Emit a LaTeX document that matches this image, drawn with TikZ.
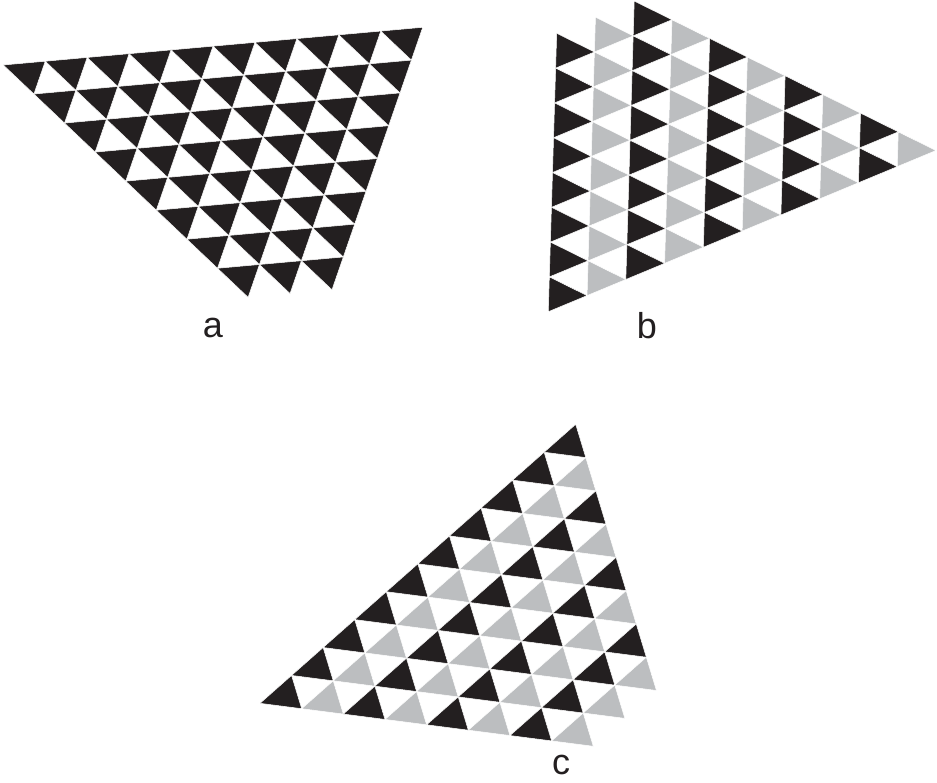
\documentclass[tikz,border=0pt]{standalone}
\usepackage{fontspec}
\setmainfont{Liberation Sans}
\definecolor{trblack}{HTML}{231F20}
\definecolor{trgrey}{HTML}{BCBEC0}
\tikzset{
  tri/.style={draw=white, line width=0.5pt, line join=miter},
  lbl/.style={font=\fontsize{36}{40}\selectfont, text=trblack, inner sep=0pt}
}
\begin{document}
\begin{tikzpicture}[x=1pt,y=-1pt]
\useasboundingbox (0,0) rectangle (937,782);
% ---------- panel a ----------
\begin{scope}[shift={(3.3pt,-65pt)}, x={(41.94pt,3.77pt)}, y={(30.6pt,-29.04pt)}]
\foreach \j in {0,...,7}{
  \pgfmathtruncatemacro\imax{9-\j}
  \foreach \i in {0,...,\imax}{
    \filldraw[tri, fill=trblack] (\i,\j) -- (\i+1,\j) -- (\i,\j+1) -- cycle;
  }
}
\end{scope}
% ---------- panel b ----------
\begin{scope}[shift={(548.3pt,-311.7pt)}, x={(1.05pt,34.8pt)}, y={(38.77pt,16.12pt)}]
\foreach \j in {0,...,9}{
  \pgfmathtruncatemacro\imax{min(7,9-\j)}
  \foreach \i in {0,...,\imax}{
    \ifodd\j\relax
      \filldraw[tri, fill=trgrey] (\i,\j) -- (\i+1,\j) -- (\i,\j+1) -- cycle;
    \else
      \filldraw[tri, fill=trblack] (\i,\j) -- (\i+1,\j) -- (\i,\j+1) -- cycle;
    \fi
  }
}
\end{scope}
% ---------- panel c ----------
\begin{scope}[shift={(260pt,-703.3pt)}, x={(41.66pt,-5.37pt)}, y={(31.57pt,27.9pt)}]
\foreach \i in {0,...,7}{
  \pgfmathtruncatemacro\jmax{9-\i}
  \foreach \j in {0,...,\jmax}{
    \ifodd\i\relax
      \filldraw[tri, fill=trgrey] (\i,\j) -- (\i+1,\j) -- (\i,\j+1) -- cycle;
    \else
      \filldraw[tri, fill=trblack] (\i,\j) -- (\i+1,\j) -- (\i,\j+1) -- cycle;
    \fi
  }
}
\end{scope}
% ---------- labels ----------
\node[lbl] (la) at (213,328) {a};
\node[lbl] (lb) at (647,326) {b};
\node[lbl] (lc) at (561,765) {c};
\end{tikzpicture}
\end{document}
